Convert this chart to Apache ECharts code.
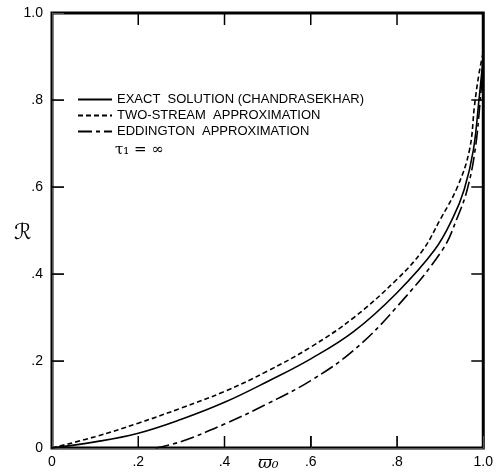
<!DOCTYPE html>
<html>
<head>
<meta charset="utf-8">
<script src="https://cdn.jsdelivr.net/npm/echarts@6/dist/echarts.min.js"></script>
<style>
  html, body { margin: 0; padding: 0; background: #fff; }
  #chart { width: 496px; height: 475px; }
</style>
</head>
<body>
<div id="chart"></div>
<script>
// values
const exactOmega = [0, 0.1, 0.2, 0.3, 0.4, 0.5, 0.6, 0.7, 0.8, 0.887, 0.93, 0.956, 0.977, 0.99, 1.0]
const exactR = [0, 0.014, 0.034, 0.066, 0.105, 0.153, 0.205, 0.268, 0.357, 0.455, 0.53, 0.595, 0.685, 0.8, 0.9]

const twoStreamOmega = [0, 0.1, 0.2, 0.3, 0.4, 0.5, 0.6, 0.7, 0.8, 0.86, 0.9, 0.94, 0.968, 0.98, 0.99, 1.0]
const twoStreamR = [0, 0.026, 0.057, 0.092, 0.13, 0.177, 0.232, 0.3, 0.388, 0.455, 0.525, 0.6, 0.685, 0.79, 0.86, 0.91]

const eddOmega = [0.24, 0.3, 0.4, 0.5, 0.6, 0.7, 0.8, 0.905, 0.94, 0.963, 0.981, 0.993, 1.0]
const eddR = [0, 0.015, 0.055, 0.102, 0.155, 0.225, 0.325, 0.455, 0.53, 0.595, 0.685, 0.8, 0.89]

const innerTicks = [0.2, 0.4, 0.6, 0.8]
const xTicks = ['0', '.2', '.4', '.6', '.8', '1.0']
const yTicks = ['0', '.2', '.4', '.6', '.8', '1.0']

const legendNames = ['EXACT  SOLUTION (CHANDRASEKHAR)', 'TWO-STREAM  APPROXIMATION', 'EDDINGTON  APPROXIMATION']

const pairs = (xs, ys) => xs.map((x, i) => [x, ys[i]])

const tickFmt = labels => v => labels[Math.round(v / 0.2)]

const font = 'Liberation Sans'
const TICK = 12

const chart = echarts.init(document.getElementById('chart'))

const makeAxis = (position, labels) => ({
  type: 'value', min: 0, max: 1, interval: 0.2,
  position: position,
  axisLine: { show: true, onZero: false },
  axisTick: { show: true, inside: true, length: TICK },
  splitLine: { show: false },
  axisLabel: { show: true, formatter: tickFmt(labels), color: '#000', fontFamily: font, fontSize: 14, margin: position === 'left' ? 9 : 7 }
})

// inward ticks on all four sides, placed through the axes' scales
const tickItem = (params, api) => {
  const v = api.value(0)
  const b = api.coord([v, 0])
  const t = api.coord([v, 1])
  const l = api.coord([0, v])
  const r = api.coord([1, v])
  const st = { stroke: '#000', lineWidth: 1.5 }
  return {
    type: 'group',
    children: [
      { type: 'line', shape: { x1: b[0], y1: b[1], x2: b[0], y2: b[1] - TICK }, style: st },
      { type: 'line', shape: { x1: t[0], y1: t[1], x2: t[0], y2: t[1] + TICK }, style: st },
      { type: 'line', shape: { x1: l[0], y1: l[1], x2: l[0] + TICK, y2: l[1] }, style: st },
      { type: 'line', shape: { x1: r[0], y1: r[1], x2: r[0] - TICK, y2: r[1] }, style: st }
    ]
  }
}

chart.setOption({
  animation: false,
  backgroundColor: '#fff',
  grid: { left: 52, right: 12, top: 13, bottom: 27, show: true, borderColor: '#000', borderWidth: 3 },
  legend: {
    orient: 'vertical',
    left: 72, top: 88,
    itemWidth: 34, itemHeight: 14, itemGap: 3,
    data: legendNames,
    itemStyle: { opacity: 0 },
    textStyle: { fontFamily: font, fontSize: 13, color: '#000' }
  },
  xAxis: makeAxis('bottom', xTicks),
  yAxis: makeAxis('left', yTicks),
  series: [
    {
      name: legendNames[0], type: 'line', symbol: 'none', smooth: 0.4,
      data: pairs(exactOmega, exactR),
      itemStyle: { color: '#000' },
      lineStyle: { color: '#000', width: 1.6, type: 'solid' }
    },
    {
      name: legendNames[1], type: 'line', symbol: 'none', smooth: 0.4,
      data: pairs(twoStreamOmega, twoStreamR),
      itemStyle: { color: '#000' },
      lineStyle: { color: '#000', width: 1.6, type: [5, 3] }
    },
    {
      name: legendNames[2], type: 'line', symbol: 'none', smooth: 0.4,
      data: pairs(eddOmega, eddR),
      itemStyle: { color: '#000' },
      lineStyle: { color: '#000', width: 1.6, type: [14, 4, 4, 4] }
    },
    {
      name: 'ticks', type: 'custom', silent: true, clip: false,
      data: innerTicks.map(v => [v, v]),
      renderItem: tickItem
    }
  ],
  graphic: [
    { type: 'text', left: 115, top: 143, style: { text: 'τ₁ = ∞', font: '15px "DejaVu Serif"', fill: '#000' } },
    { type: 'text', left: 14, top: 222, style: { text: 'ℛ', font: '22px "DejaVu Sans"', fill: '#000' } },
    { type: 'text', left: 258, top: 455, style: { text: 'ϖ₀', font: 'italic 17px "DejaVu Serif"', fill: '#000' } }
  ]
})
</script>
</body>
</html>
